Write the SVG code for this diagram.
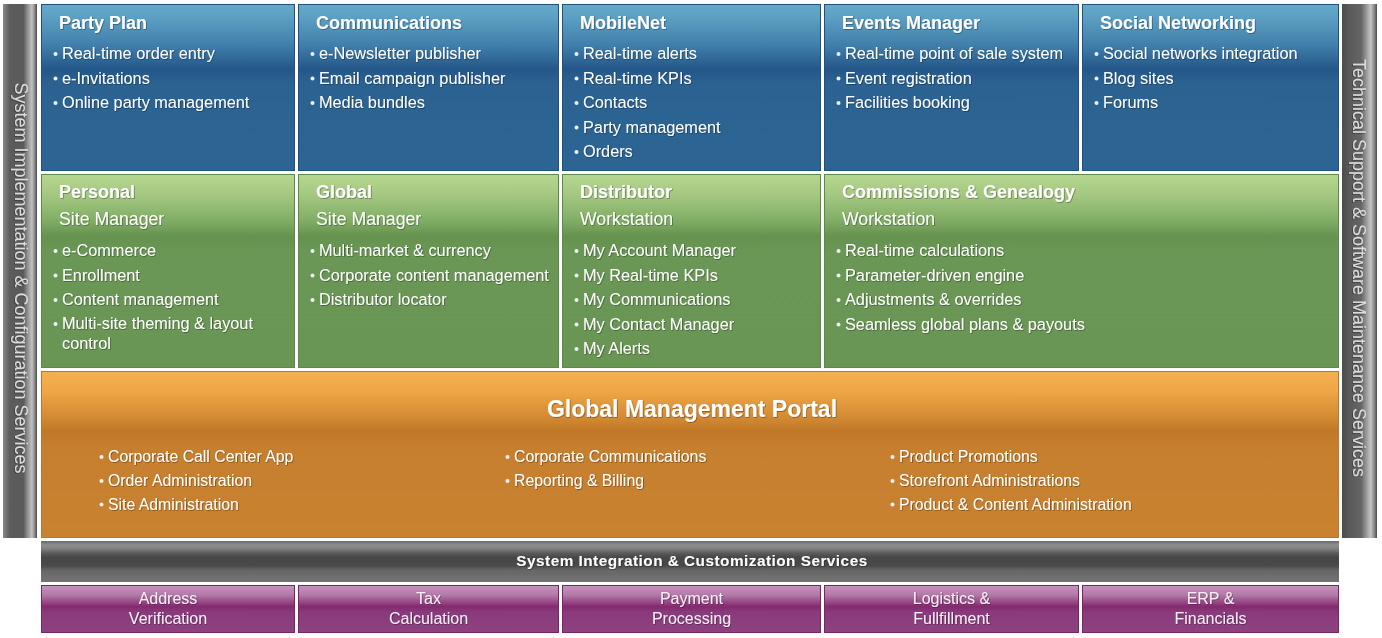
<svg xmlns="http://www.w3.org/2000/svg" width="1382" height="638" viewBox="0 0 1382 638">
  <defs>
    <linearGradient id="gBlue" x1="0" y1="0" x2="0" y2="1">
      <stop offset="0" stop-color="#65aac9"/>
      <stop offset="0.08" stop-color="#5c9fc2"/>
      <stop offset="0.25" stop-color="#3f7eaa"/>
      <stop offset="0.39" stop-color="#245789"/>
      <stop offset="0.47" stop-color="#2b6291"/>
      <stop offset="1" stop-color="#2c6593"/>
    </linearGradient>
    <linearGradient id="gGreen" x1="0" y1="0" x2="0" y2="1">
      <stop offset="0" stop-color="#b5d78f"/>
      <stop offset="0.1" stop-color="#a6c982"/>
      <stop offset="0.24" stop-color="#80ad65"/>
      <stop offset="0.32" stop-color="#66924f"/>
      <stop offset="0.4" stop-color="#6a9756"/>
      <stop offset="1" stop-color="#6a9655"/>
    </linearGradient>
    <linearGradient id="gOrange" x1="0" y1="0" x2="0" y2="1">
      <stop offset="0" stop-color="#f5b04f"/>
      <stop offset="0.12" stop-color="#eea646"/>
      <stop offset="0.27" stop-color="#d48b34"/>
      <stop offset="0.36" stop-color="#c07828"/>
      <stop offset="0.45" stop-color="#c67f2e"/>
      <stop offset="1" stop-color="#c98230"/>
    </linearGradient>
    <linearGradient id="gBar" x1="0" y1="0" x2="0" y2="1">
      <stop offset="0" stop-color="#6a6a6a"/>
      <stop offset="0.1" stop-color="#8f8f8f"/>
      <stop offset="0.2" stop-color="#7d7d7d"/>
      <stop offset="0.3" stop-color="#5a5a5a"/>
      <stop offset="0.4" stop-color="#474747"/>
      <stop offset="0.6" stop-color="#4a4a4a"/>
      <stop offset="0.72" stop-color="#676767"/>
      <stop offset="1" stop-color="#737373"/>
    </linearGradient>
    <linearGradient id="gPurple" x1="0" y1="0" x2="0" y2="1">
      <stop offset="0" stop-color="#c793bc"/>
      <stop offset="0.2" stop-color="#b27aa8"/>
      <stop offset="0.45" stop-color="#85296f"/>
      <stop offset="0.56" stop-color="#8a3a7c"/>
      <stop offset="1" stop-color="#8d437f"/>
    </linearGradient>
    <linearGradient id="gSideL" x1="0" y1="0" x2="1" y2="0">
      <stop offset="0" stop-color="#8a8a8a"/>
      <stop offset="0.12" stop-color="#6e6e6e"/>
      <stop offset="0.2" stop-color="#5c5c5c"/>
      <stop offset="0.6" stop-color="#5a5a5a"/>
      <stop offset="0.72" stop-color="#8f8f8f"/>
      <stop offset="0.85" stop-color="#c2c2c2"/>
      <stop offset="0.93" stop-color="#8a8a8a"/>
      <stop offset="1" stop-color="#4a4a4a"/>
    </linearGradient>
    <linearGradient id="gSideR" x1="0" y1="0" x2="1" y2="0">
      <stop offset="0" stop-color="#4c4c4c"/>
      <stop offset="0.2" stop-color="#5a5a5a"/>
      <stop offset="0.55" stop-color="#666666"/>
      <stop offset="0.7" stop-color="#9a9a9a"/>
      <stop offset="0.82" stop-color="#c4c4c4"/>
      <stop offset="0.92" stop-color="#8a8a8a"/>
      <stop offset="1" stop-color="#4a4a4a"/>
    </linearGradient>
    <filter id="shadow" x="-5%" y="-20%" width="110%" height="140%">
      <feDropShadow dx="0.7" dy="0.7" stdDeviation="0.4" flood-color="#000" flood-opacity="0.45"/>
    </filter>
  </defs>
  <style>
    text { font-family: "Liberation Sans", Arial, sans-serif; fill: #ffffff; filter: url(#shadow); }
    .h { font-weight: bold; font-size: 18px; }
    .s { font-size: 17.7px; }
    .b { font-size: 16.3px; }
    .o { font-size: 15.8px; }
    .p { font-size: 16px; text-anchor: middle; fill: #f8eef6; }
    .side { font-size: 18px; text-anchor: middle; fill: #dcdcdc; }
    .blue { fill: url(#gBlue); stroke: #1f5080; stroke-width: 1; }
    .green { fill: url(#gGreen); stroke: #5a8a45; stroke-width: 1; }
    .orange { fill: url(#gOrange); stroke: #bf772a; stroke-width: 1; }
    .purple { fill: url(#gPurple); stroke: #7a2468; stroke-width: 1; }
    .dot { fill: #eef3f8; }
  </style>

  <rect width="1382" height="638" fill="#ffffff"/>

  <!-- side service bars -->
  <g id="side-implementation">
    <rect x="3" y="4" width="34" height="534" fill="url(#gSideL)"/>
    <text class="side" transform="translate(15,278) rotate(90)">System Implementation &amp; Configuration Services</text>
  </g>
  <g id="side-support">
    <rect x="1342" y="4" width="35" height="534" fill="url(#gSideR)"/>
    <text class="side" transform="translate(1353,268) rotate(90)">Technical Support &amp; Software Maintenance Services</text>
  </g>

  <!-- top row: blue modules -->
  <g id="party-plan">
    <rect class="blue" x="41.5" y="4.5" width="253" height="166"/>
    <text class="h" x="59" y="29">Party Plan</text>
    <circle class="dot" cx="55.5" cy="54" r="2"/><text class="b" x="62" y="59">Real-time order entry</text>
    <circle class="dot" cx="55.5" cy="78.5" r="2"/><text class="b" x="62" y="83.5">e-Invitations</text>
    <circle class="dot" cx="55.5" cy="103" r="2"/><text class="b" x="62" y="108">Online party management</text>
  </g>
  <g id="communications">
    <rect class="blue" x="298.5" y="4.5" width="260" height="166"/>
    <text class="h" x="316" y="29">Communications</text>
    <circle class="dot" cx="312.5" cy="54" r="2"/><text class="b" x="319" y="59">e-Newsletter publisher</text>
    <circle class="dot" cx="312.5" cy="78.5" r="2"/><text class="b" x="319" y="83.5">Email campaign publisher</text>
    <circle class="dot" cx="312.5" cy="103" r="2"/><text class="b" x="319" y="108">Media bundles</text>
  </g>
  <g id="mobilenet">
    <rect class="blue" x="562.5" y="4.5" width="258" height="166"/>
    <text class="h" x="580" y="29">MobileNet</text>
    <circle class="dot" cx="576.5" cy="54" r="2"/><text class="b" x="583" y="59">Real-time alerts</text>
    <circle class="dot" cx="576.5" cy="78.5" r="2"/><text class="b" x="583" y="83.5">Real-time KPIs</text>
    <circle class="dot" cx="576.5" cy="103" r="2"/><text class="b" x="583" y="108">Contacts</text>
    <circle class="dot" cx="576.5" cy="127.5" r="2"/><text class="b" x="583" y="132.5">Party management</text>
    <circle class="dot" cx="576.5" cy="152" r="2"/><text class="b" x="583" y="157">Orders</text>
  </g>
  <g id="events-manager">
    <rect class="blue" x="824.5" y="4.5" width="254" height="166"/>
    <text class="h" x="842" y="29">Events Manager</text>
    <circle class="dot" cx="838.5" cy="54" r="2"/><text class="b" x="845" y="59">Real-time point of sale system</text>
    <circle class="dot" cx="838.5" cy="78.5" r="2"/><text class="b" x="845" y="83.5">Event registration</text>
    <circle class="dot" cx="838.5" cy="103" r="2"/><text class="b" x="845" y="108">Facilities booking</text>
  </g>
  <g id="social-networking">
    <rect class="blue" x="1082.5" y="4.5" width="256" height="166"/>
    <text class="h" x="1100" y="29">Social Networking</text>
    <circle class="dot" cx="1096.5" cy="54" r="2"/><text class="b" x="1103" y="59">Social networks integration</text>
    <circle class="dot" cx="1096.5" cy="78.5" r="2"/><text class="b" x="1103" y="83.5">Blog sites</text>
    <circle class="dot" cx="1096.5" cy="103" r="2"/><text class="b" x="1103" y="108">Forums</text>
  </g>

  <!-- middle row: green workstations -->
  <g id="personal-site-manager">
    <rect class="green" x="41.5" y="174.5" width="253" height="193"/>
    <text class="h" x="59" y="198">Personal</text>
    <text class="s" x="59" y="225">Site Manager</text>
    <circle class="dot" cx="55.5" cy="251" r="2"/><text class="b" x="62" y="256">e-Commerce</text>
    <circle class="dot" cx="55.5" cy="275.5" r="2"/><text class="b" x="62" y="280.5">Enrollment</text>
    <circle class="dot" cx="55.5" cy="300" r="2"/><text class="b" x="62" y="305">Content management</text>
    <circle class="dot" cx="55.5" cy="324" r="2"/><text class="b" x="62" y="329">Multi-site theming &amp; layout</text>
    <text class="b" x="62" y="348.5">control</text>
  </g>
  <g id="global-site-manager">
    <rect class="green" x="298.5" y="174.5" width="260" height="193"/>
    <text class="h" x="316" y="198">Global</text>
    <text class="s" x="316" y="225">Site Manager</text>
    <circle class="dot" cx="312.5" cy="251" r="2"/><text class="b" x="319" y="256">Multi-market &amp; currency</text>
    <circle class="dot" cx="312.5" cy="275.5" r="2"/><text class="b" x="319" y="280.5">Corporate content management</text>
    <circle class="dot" cx="312.5" cy="300" r="2"/><text class="b" x="319" y="305">Distributor locator</text>
  </g>
  <g id="distributor-workstation">
    <rect class="green" x="562.5" y="174.5" width="258" height="193"/>
    <text class="h" x="580" y="198">Distributor</text>
    <text class="s" x="580" y="225">Workstation</text>
    <circle class="dot" cx="576.5" cy="251" r="2"/><text class="b" x="583" y="256">My Account Manager</text>
    <circle class="dot" cx="576.5" cy="275.5" r="2"/><text class="b" x="583" y="280.5">My Real-time KPIs</text>
    <circle class="dot" cx="576.5" cy="300" r="2"/><text class="b" x="583" y="305">My Communications</text>
    <circle class="dot" cx="576.5" cy="324.5" r="2"/><text class="b" x="583" y="329.5">My Contact Manager</text>
    <circle class="dot" cx="576.5" cy="349" r="2"/><text class="b" x="583" y="354">My Alerts</text>
  </g>
  <g id="commissions-workstation">
    <rect class="green" x="824.5" y="174.5" width="514" height="193"/>
    <text class="h" x="842" y="198">Commissions &amp; Genealogy</text>
    <text class="s" x="842" y="225">Workstation</text>
    <circle class="dot" cx="838.5" cy="251" r="2"/><text class="b" x="845" y="256">Real-time calculations</text>
    <circle class="dot" cx="838.5" cy="275.5" r="2"/><text class="b" x="845" y="280.5">Parameter-driven engine</text>
    <circle class="dot" cx="838.5" cy="300" r="2"/><text class="b" x="845" y="305">Adjustments &amp; overrides</text>
    <circle class="dot" cx="838.5" cy="324.5" r="2"/><text class="b" x="845" y="329.5">Seamless global plans &amp; payouts</text>
  </g>

  <!-- management portal -->
  <g id="global-management-portal">
    <rect class="orange" x="41.5" y="371.5" width="1297" height="166"/>
    <text x="692" y="417" style="font-weight:bold;font-size:23px;text-anchor:middle">Global Management Portal</text>
    <circle class="dot" cx="101.5" cy="457" r="2"/><text class="o" x="108" y="462">Corporate Call Center App</text>
    <circle class="dot" cx="101.5" cy="481" r="2"/><text class="o" x="108" y="486">Order Administration</text>
    <circle class="dot" cx="101.5" cy="504.5" r="2"/><text class="o" x="108" y="509.5">Site Administration</text>
    <circle class="dot" cx="507.5" cy="457" r="2"/><text class="o" x="514" y="462">Corporate Communications</text>
    <circle class="dot" cx="507.5" cy="481" r="2"/><text class="o" x="514" y="486">Reporting &amp; Billing</text>
    <circle class="dot" cx="892.5" cy="457" r="2"/><text class="o" x="899" y="462">Product Promotions</text>
    <circle class="dot" cx="892.5" cy="481" r="2"/><text class="o" x="899" y="486">Storefront Administrations</text>
    <circle class="dot" cx="892.5" cy="504.5" r="2"/><text class="o" x="899" y="509.5">Product &amp; Content Administration</text>
  </g>

  <!-- integration layer -->
  <g id="integration-services">
    <rect x="41" y="541" width="1298" height="41" fill="url(#gBar)"/>
    <text x="692" y="566" style="font-weight:bold;font-size:15.3px;letter-spacing:0.5px;text-anchor:middle">System Integration &amp; Customization Services</text>
  </g>

  <!-- bottom row: purple back-office services -->
  <g id="address-verification">
    <rect class="purple" x="41.5" y="585.5" width="253" height="47"/>
    <text class="p" x="168" y="604">Address</text>
    <text class="p" x="168" y="624">Verification</text>
  </g>
  <g id="tax-calculation">
    <rect class="purple" x="298.5" y="585.5" width="260" height="47"/>
    <text class="p" x="428.5" y="604">Tax</text>
    <text class="p" x="428.5" y="624">Calculation</text>
  </g>
  <g id="payment-processing">
    <rect class="purple" x="562.5" y="585.5" width="258" height="47"/>
    <text class="p" x="691.5" y="604">Payment</text>
    <text class="p" x="691.5" y="624">Processing</text>
  </g>
  <g id="logistics-fulfillment">
    <rect class="purple" x="824.5" y="585.5" width="254" height="47"/>
    <text class="p" x="951.5" y="604">Logistics &amp;</text>
    <text class="p" x="951.5" y="624">Fullfillment</text>
  </g>
  <g id="erp-financials">
    <rect class="purple" x="1082.5" y="585.5" width="256" height="47"/>
    <text class="p" x="1210.5" y="604">ERP &amp;</text>
    <text class="p" x="1210.5" y="624">Financials</text>
  </g>

  <g id="connectors"/>
</svg>
